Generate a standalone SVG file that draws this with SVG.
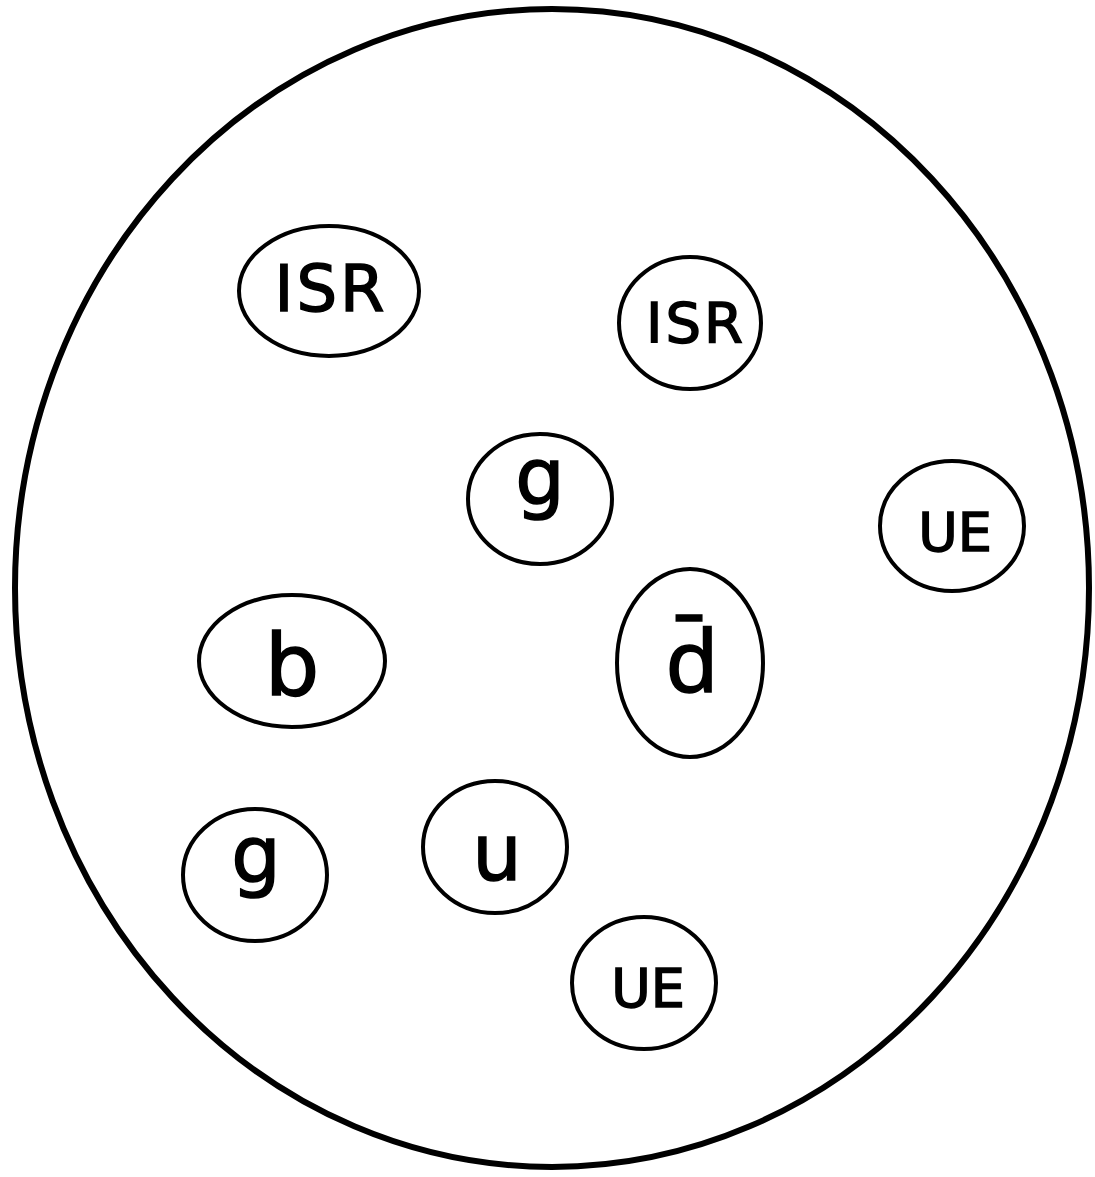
<svg xmlns="http://www.w3.org/2000/svg" width="1095" height="1177" viewBox="0 0 1095 1177">
<style>
.n{fill:#fff;stroke:#000;stroke-width:4}
.t{font-family:"DejaVu Sans","Liberation Sans",sans-serif;fill:#000;stroke:#000;stroke-width:1.5;text-anchor:middle}
.big{font-size:86px}
.mid{font-size:78px}
.lab{font-size:64px;letter-spacing:3px}
.sm{font-size:56px;letter-spacing:3px}
.ue{font-size:54px}
</style>
<rect width="1095" height="1177" fill="#fff"/>
<g id="container"><ellipse cx="552" cy="588" rx="537" ry="579" fill="#fff" stroke="#000" stroke-width="6"/></g>
<g id="connectors"></g>
<g id="isr1"><ellipse class="n" cx="329" cy="291" rx="90" ry="65"/><text class="t lab" x="331" y="311">ISR</text></g>
<g id="isr2"><ellipse class="n" cx="690" cy="323" rx="71" ry="66"/><text class="t sm" x="696" y="342">ISR</text></g>
<g id="g1"><ellipse class="n" cx="540" cy="499" rx="72" ry="65"/><text class="t mid" x="540" y="504">g</text></g>
<g id="ue1"><ellipse class="n" cx="952" cy="526" rx="72" ry="65"/><text class="t ue" x="955" y="551">UE</text></g>
<g id="b"><ellipse class="n" cx="292" cy="661" rx="93" ry="66"/><text class="t big" x="292" y="695">b</text></g>
<g id="dbar"><ellipse class="n" cx="690" cy="663" rx="73" ry="94"/><text class="t big" x="692" y="692" style="font-family:'Noto Sans','DejaVu Sans',sans-serif">d̄</text></g>
<g id="g2"><ellipse class="n" cx="255" cy="875" rx="72" ry="66"/><text class="t mid" x="256" y="882">g</text></g>
<g id="u"><ellipse class="n" cx="495" cy="847" rx="72" ry="66"/><text class="t mid" x="497" y="880">u</text></g>
<g id="ue2"><ellipse class="n" cx="644" cy="983" rx="72" ry="66"/><text class="t ue" x="648" y="1007">UE</text></g>
</svg>
